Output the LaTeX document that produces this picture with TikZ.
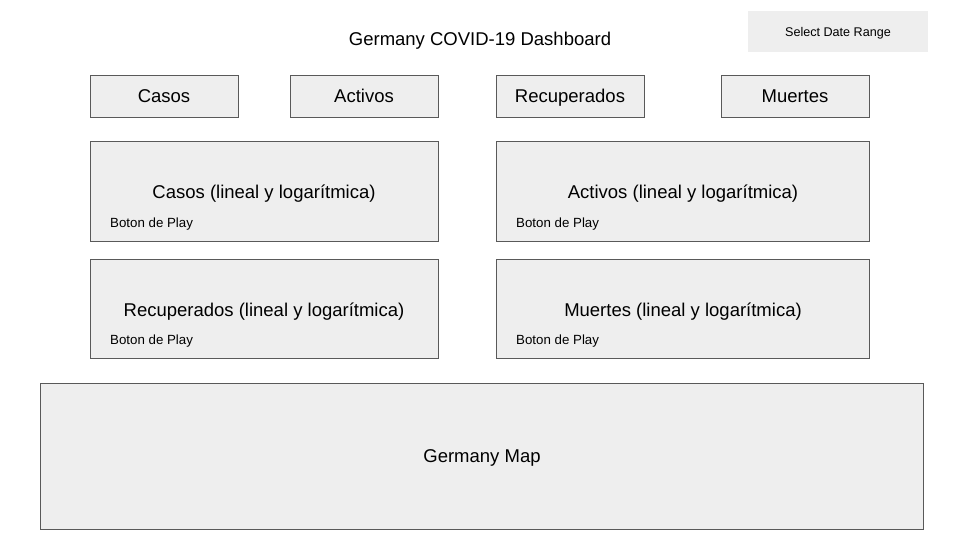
\documentclass[tikz,border=0pt]{standalone}
\usepackage{fontspec}
\setmainfont{Liberation Sans}
\definecolor{boxfill}{HTML}{EEEEEE}
\definecolor{boxline}{HTML}{595959}
\tikzset{
  x=1pt,y=-1pt,
  panel/.style={draw=boxline,fill=boxfill,line width=0.9pt},
  bigtxt/.style={font=\fontsize{18.5}{22}\selectfont,inner sep=0pt,anchor=base},
  smalltxt/.style={font=\fontsize{13.3}{16}\selectfont,inner sep=0pt,anchor=base west},
}
\begin{document}
\begin{tikzpicture}
\useasboundingbox[fill=white] (0,0) rectangle (960,540);
% title and date button
\node[bigtxt] (title) at (480,46) {Germany COVID-19 Dashboard};
\fill[boxfill] (748,11) rectangle (928,52);
\node[font=\fontsize{12.6}{15}\selectfont,inner sep=0pt,anchor=base] (date) at (838,36.5) {Select Date Range};
% KPI boxes
\draw[panel] (90,75) rectangle (238,117);
\node[bigtxt] (casos) at (164,103) {Casos};
\draw[panel] (290,75) rectangle (438,117);
\node[bigtxt] (activos) at (364,103) {Activos};
\draw[panel] (496,75) rectangle (644,117);
\node[bigtxt] (recup) at (570,103) {Recuperados};
\draw[panel] (721,75) rectangle (869,117);
\node[bigtxt] (muertes) at (795,103) {Muertes};
% chart boxes
\draw[panel] (90,141) rectangle (438,241);
\node[bigtxt] (c1) at (264,198) {Casos (lineal y logarítmica)};
\node[smalltxt] (p1) at (110,227.5) {Boton de Play};
\draw[panel] (496,141) rectangle (869,241);
\node[bigtxt] (c2) at (683,198) {Activos (lineal y logarítmica)};
\node[smalltxt] (p2) at (516,227.5) {Boton de Play};
\draw[panel] (90,259) rectangle (438,358);
\node[bigtxt] (c3) at (264,316) {Recuperados (lineal y logarítmica)};
\node[smalltxt] (p3) at (110,344.5) {Boton de Play};
\draw[panel] (496,259) rectangle (869,358);
\node[bigtxt] (c4) at (683,316) {Muertes (lineal y logarítmica)};
\node[smalltxt] (p4) at (516,344.5) {Boton de Play};
% map
\draw[panel] (40,383) rectangle (923,529);
\node[bigtxt] (map) at (482,462) {Germany Map};
\end{tikzpicture}
\end{document}
